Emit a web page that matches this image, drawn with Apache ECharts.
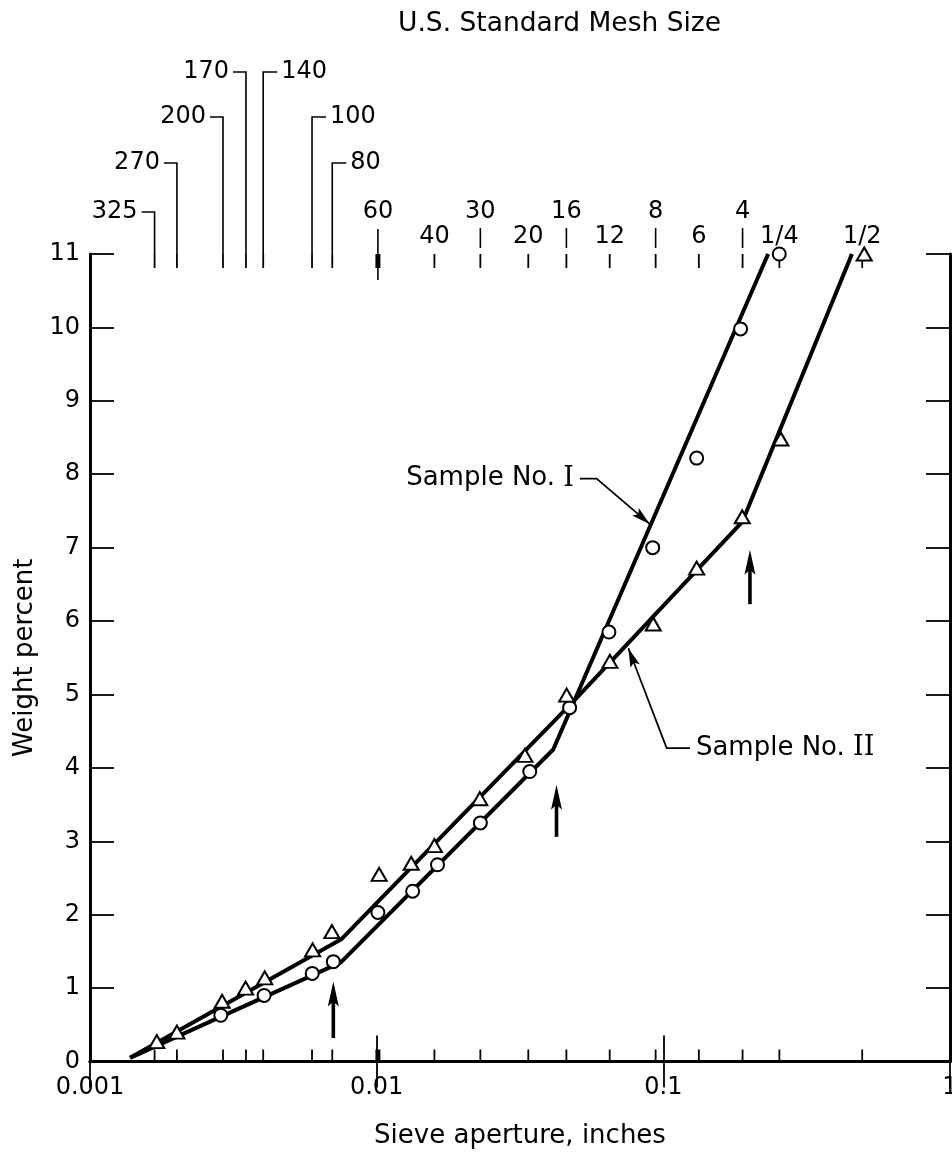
<!DOCTYPE html>
<html lang="en">
<head>
<meta charset="UTF-8">
<title>Sieve analysis</title>
<script src="https://cdn.jsdelivr.net/npm/echarts@6.0.0/dist/echarts.min.js"></script>
<style>
  html, body { margin: 0; padding: 0; background: #fff; }
  #chart { width: 952px; height: 1153px; }
</style>
</head>
<body>
<div id="chart"></div>
<script>
// measured points, aperture in inches / weight percent
var sample1X = [0.00286, 0.00405, 0.00596, 0.00706, 0.0101, 0.01335, 0.0163, 0.0230, 0.0342, 0.0471, 0.0646, 0.0918, 0.1307, 0.186, 0.2537];
var sample1Y = [0.63, 0.90, 1.20, 1.36, 2.03, 2.32, 2.68, 3.25, 3.95, 4.82, 5.85, 7.00, 8.22, 9.98, 11.0];
var sample2X = [0.00171, 0.00201, 0.00289, 0.00349, 0.00407, 0.00598, 0.00698, 0.0102, 0.0132, 0.0159, 0.0229, 0.0329, 0.0460, 0.0651, 0.0922, 0.1307, 0.1885, 0.257, 0.502];
var sample2Y = [0.27, 0.40, 0.82, 1.00, 1.14, 1.52, 1.77, 2.55, 2.70, 2.94, 3.58, 4.17, 4.99, 5.45, 5.96, 6.72, 7.42, 8.48, 11.0];

// fitted broken lines
var fit1X = [0.00138, 0.00750, 0.0413, 0.232];
var fit1Y = [0.05, 1.35, 4.25, 11];
var fit2X = [0.00138, 0.00755, 0.0492, 0.1885, 0.455];
var fit2Y = [0.05, 1.67, 4.93, 7.35, 11];

// break point arrows
var arrowX = [0.00706, 0.0424, 0.2005];
var arrowFrom = [0.32, 3.06, 6.23];
var arrowTo = [1.09, 3.77, 6.97];

// U.S. standard mesh sizes along the top
var meshLabels = ['325', '270', '200', '170', '140', '100', '80', '60', '40', '30', '20', '16', '12', '8', '6', '4', '1/4', '1/2'];
var meshAperture = [0.00168, 0.00201, 0.00291, 0.0035, 0.00402, 0.00595, 0.0070, 0.0101, 0.0159, 0.0230, 0.0338, 0.0459, 0.0650, 0.0940, 0.133, 0.189, 0.254, 0.494];
// how each mesh label is hung above the frame
var meshLeader = ['left', 'left', 'left', 'left', 'right', 'right', 'right', 'long', 'none', 'short', 'none', 'short', 'none', 'short', 'none', 'short', 'none', 'none'];
var meshLift = [42, 91, 137, 182, 182, 137, 91, 42, 17, 42, 17, 42, 17, 42, 17, 42, 17, 17];

// curve labels: text end of leader ... arrow tip
var noteNames = ['Sample No. I', 'Sample No. II'];
var noteLeader = [
  [[0.0512, 7.94], [0.0585, 7.94], [0.0898, 7.32]],
  [[0.1238, 4.27], [0.1027, 4.27], [0.0755, 5.63]]
];
var noteAlign = ['right', 'left'];

var FONT = 'DejaVu Sans';

function pairs(xs, ys) {
  return xs.map(function (x, i) { return [x, ys[i]]; });
}

function seg(pts, w) {
  return { type: 'polyline', shape: { points: pts }, style: { stroke: '#000', lineWidth: w || 1.6, fill: 'none' } };
}

function head(tip, tail, len, half) {
  var dx = tip[0] - tail[0], dy = tip[1] - tail[1];
  var d = Math.sqrt(dx * dx + dy * dy);
  var ux = dx / d, uy = dy / d, nx = -uy, ny = ux;
  var bx = tip[0] - ux * len, by = tip[1] - uy * len;
  return {
    type: 'polygon',
    shape: { points: [tip, [bx + nx * half, by + ny * half], [tip[0] - ux * len * 0.8, tip[1] - uy * len * 0.8], [bx - nx * half, by - ny * half]] },
    style: { fill: '#000' }
  };
}

function meshItem(params, api) {
  var i = params.dataIndex;
  var a = api.value(0);
  var p = api.coord([a, 11]);
  var x = p[0], top = p[1];
  var bot = api.coord([a, 0])[1];
  var kind = meshLeader[i];
  var kids = [];
  kids.push(seg([[x, top], [x, top + 14]], kind === 'long' ? 5 : 1.8));
  kids.push(seg([[x, bot], [x, bot - 12]], kind === 'long' ? 5 : 1.8));
  var ty = top - meshLift[i], tx = x, align = 'center';
  if (kind === 'left') {
    kids.push(seg([[x, top], [x, ty], [x - 13, ty]]));
    tx = x - 17; align = 'right';
  } else if (kind === 'right') {
    kids.push(seg([[x, top], [x, ty], [x + 14, ty]]));
    tx = x + 18; align = 'left';
  } else if (kind === 'long') {
    kids.push(seg([[x, top - 25], [x, top + 26]]));
  } else if (kind === 'short') {
    kids.push(seg([[x, top - 26], [x, top - 6]]));
  }
  kids.push({
    type: 'text',
    style: { text: meshLabels[i], x: tx, y: ty, align: align, verticalAlign: 'middle', fontSize: 24, fontFamily: FONT, fill: '#000' }
  });
  return { type: 'group', children: kids };
}

function arrowItem(params, api) {
  var i = params.dataIndex;
  var tail = api.coord([arrowX[i], arrowFrom[i]]);
  var tip = api.coord([arrowX[i], arrowTo[i]]);
  return {
    type: 'group',
    children: [seg([tail, [tip[0], tip[1] + 14]], 3.6), head(tip, tail, 25, 5.5)]
  };
}

function noteItem(params, api) {
  var i = params.dataIndex;
  var pts = noteLeader[i].map(function (v) { return api.coord(v); });
  var n = pts.length;
  var words = noteNames[i].split(' ');
  var numeral = words.pop();
  var start = pts[0];
  var tx = noteAlign[i] === 'right' ? start[0] - 6 : start[0] + 6;
  return {
    type: 'group',
    children: [
      seg(pts, 1.8),
      head(pts[n - 1], pts[n - 2], 19, 5),
      {
        type: 'text',
        style: {
          text: '{s|' + words.join(' ') + ' }{r|' + numeral + '}',
          x: tx, y: start[1], align: noteAlign[i], verticalAlign: 'middle', fill: '#000',
          rich: {
            s: { fontSize: 26, fontFamily: FONT, fill: '#000' },
            r: { fontSize: 27, fontFamily: 'DejaVu Serif', fill: '#000' }
          }
        }
      }
    ]
  };
}

var axisLine = { show: true, lineStyle: { color: '#000', width: 3 } };
var tick = { color: '#000', width: 1.8 };
var txt = { color: '#000', fontFamily: FONT, fontSize: 24 };

var chart = echarts.init(document.getElementById('chart'));
var option = {
  animation: false,
  backgroundColor: '#fff',
  title: {
    text: 'U.S. Standard Mesh Size',
    left: 398, top: 11, padding: 0,
    textStyle: { color: '#000', fontFamily: FONT, fontSize: 26.5, fontWeight: 'normal' }
  },
  grid: { left: 90, right: 2, top: 254, bottom: 91.5, containLabel: false, outerBoundsMode: 'none' },
  xAxis: [
    {
      type: 'log', logBase: 10, min: 0.001, max: 1, position: 'bottom',
      axisLine: axisLine,
      axisTick: { inside: true, length: 26, lineStyle: tick },
      axisLabel: Object.assign({ margin: 14, showMinLabel: true, showMaxLabel: true,
        formatter: function (v) { return String(+v.toPrecision(1)); } }, txt),
      splitLine: { show: false },
      name: 'Sieve aperture, inches', nameLocation: 'middle', nameGap: 62,
      nameTextStyle: { color: '#000', fontFamily: FONT, fontSize: 26 }
    },
    {
      type: 'log', logBase: 10, min: 0.001, max: 1, position: 'top',
      axisLine: axisLine,
      axisTick: { inside: true, length: 26, lineStyle: tick },
      axisLabel: { show: false },
      splitLine: { show: false }
    }
  ],
  yAxis: [
    {
      type: 'value', min: 0, max: 11, interval: 1, position: 'left',
      axisLine: axisLine,
      axisTick: { inside: true, length: 24, lineStyle: tick },
      axisLabel: Object.assign({ margin: 10 }, txt),
      splitLine: { show: false },
      name: 'Weight percent', nameLocation: 'middle', nameGap: 46, nameRotate: 90,
      nameTextStyle: { color: '#000', fontFamily: FONT, fontSize: 26 }
    },
    {
      type: 'value', min: 0, max: 11, interval: 1, position: 'right',
      axisLine: axisLine,
      axisTick: { inside: true, length: 24, lineStyle: tick },
      axisLabel: { show: false },
      splitLine: { show: false }
    }
  ],
  series: [
    {
      type: 'line', data: pairs(fit1X, fit1Y), symbol: 'none', clip: false,
      lineStyle: { color: '#000', width: 4 }, z: 3
    },
    {
      type: 'line', data: pairs(fit2X, fit2Y), symbol: 'none', clip: false,
      lineStyle: { color: '#000', width: 4 }, z: 3
    },
    {
      type: 'scatter', data: pairs(sample1X, sample1Y), symbol: 'circle', symbolSize: 13, clip: false,
      itemStyle: { color: '#fff', borderColor: '#000', borderWidth: 2, opacity: 1 }, z: 5
    },
    {
      type: 'scatter', data: pairs(sample2X, sample2Y), symbol: 'triangle', symbolSize: [15, 13], clip: false,
      itemStyle: { color: '#fff', borderColor: '#000', borderWidth: 2, opacity: 1 }, z: 5
    },
    {
      type: 'custom', data: meshAperture.map(function (a) { return [a]; }), clip: false,
      renderItem: meshItem, z: 4, silent: true
    },
    {
      type: 'custom', data: arrowX.map(function (a, i) { return [a, arrowTo[i]]; }), clip: false,
      renderItem: arrowItem, z: 4, silent: true
    },
    {
      type: 'custom', data: noteNames.map(function (n, i) { return noteLeader[i][0]; }), clip: false,
      renderItem: noteItem, z: 4, silent: true
    }
  ]
};
chart.setOption(option);
</script>
</body>
</html>
